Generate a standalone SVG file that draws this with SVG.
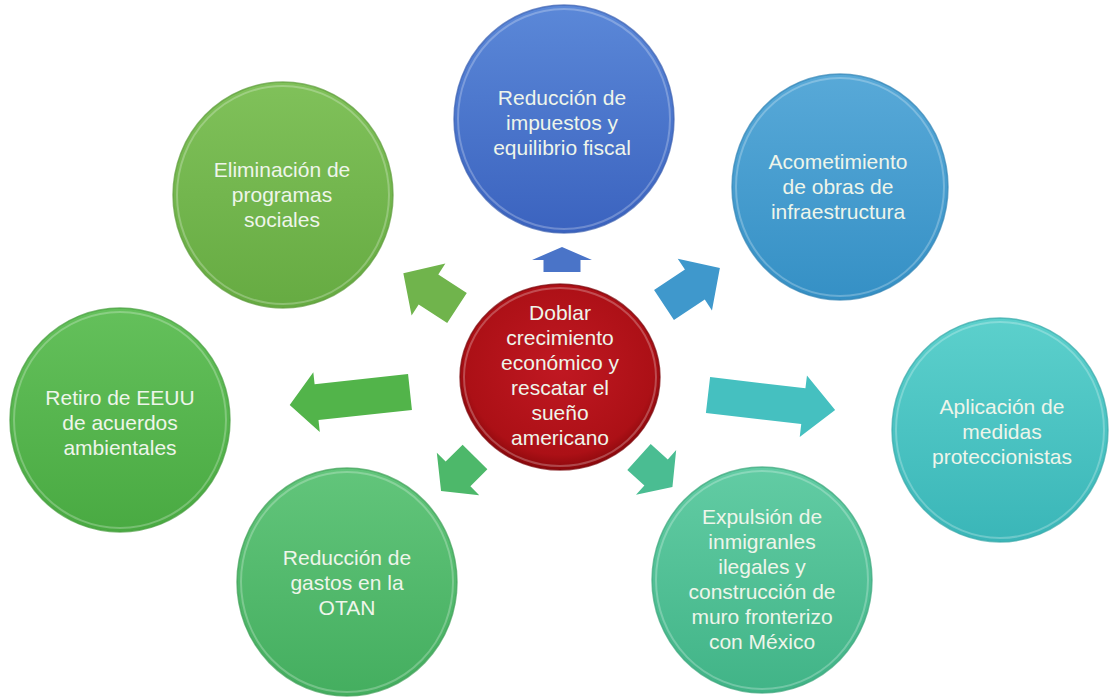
<svg xmlns="http://www.w3.org/2000/svg" width="1109" height="698" viewBox="0 0 1109 698">
<defs>
  <linearGradient id="gBlue" x1="0" y1="0" x2="0" y2="1"><stop offset="0" stop-color="#5b88d8"/><stop offset="1" stop-color="#3b63bf"/></linearGradient>
  <linearGradient id="gSky" x1="0" y1="0" x2="0" y2="1"><stop offset="0" stop-color="#58a9d8"/><stop offset="1" stop-color="#3590c5"/></linearGradient>
  <linearGradient id="gTeal" x1="0" y1="0" x2="0" y2="1"><stop offset="0" stop-color="#5cd0cc"/><stop offset="1" stop-color="#3ab6b8"/></linearGradient>
  <linearGradient id="gMint" x1="0" y1="0" x2="0" y2="1"><stop offset="0" stop-color="#62cca4"/><stop offset="1" stop-color="#41b487"/></linearGradient>
  <linearGradient id="gGreen" x1="0" y1="0" x2="0" y2="1"><stop offset="0" stop-color="#62c57b"/><stop offset="1" stop-color="#44ae5f"/></linearGradient>
  <linearGradient id="gLeaf" x1="0" y1="0" x2="0" y2="1"><stop offset="0" stop-color="#64c05b"/><stop offset="1" stop-color="#49aa42"/></linearGradient>
  <linearGradient id="gLime" x1="0" y1="0" x2="0" y2="1"><stop offset="0" stop-color="#80c15a"/><stop offset="1" stop-color="#66ab42"/></linearGradient>
  <radialGradient id="gRed" cx="0.5" cy="0.45" r="0.55"><stop offset="0" stop-color="#c01822"/><stop offset="0.85" stop-color="#ac1016"/><stop offset="1" stop-color="#8a080c"/></radialGradient>
</defs>
<style>
  .rim { fill: none; stroke: #ffffff; stroke-opacity: 0.25; stroke-width: 2; }
  .edge { stroke-width: 1.5; stroke-opacity: 0.7; }
  .lbl { font-family: "Liberation Sans", Arial, sans-serif; font-size: 21px; fill: #eef5ea; text-anchor: middle; }
</style>
<rect width="1109" height="698" fill="#ffffff"/>

<g id="connectors">
  <polygon transform="translate(562,272) rotate(-90)" fill="#4a74c8" points="0,-18.5 12,-18.5 12,-30 25,0 12,30 12,18.5 0,18.5"/>
  <polygon transform="translate(664,305) rotate(-33.5)" fill="#3f98cc" points="0,-18 37,-18 37,-31 67,0 37,31 37,18 0,18"/>
  <polygon transform="translate(708,395) rotate(6.7)" fill="#45c0c0" points="0,-18 96,-18 96,-31 128,0 96,31 96,18 0,18"/>
  <polygon transform="translate(639,457) rotate(42)" fill="#4abd92" points="0,-17.5 23,-17.5 23,-30 45,0 23,30 23,17.5 0,17.5"/>
  <polygon transform="translate(475,457) rotate(135)" fill="#4db86a" points="0,-17.5 24,-17.5 24,-30 48,0 24,30 24,17.5 0,17.5"/>
  <polygon transform="translate(410,392) rotate(173.8)" fill="#52b44a" points="0,-18 94,-18 94,-30 121,0 94,30 94,18 0,18"/>
  <polygon transform="translate(457,308) rotate(-147)" fill="#70b44c" points="0,-18 34,-18 34,-31 64,0 34,31 34,18 0,18"/>
</g>

<g id="node-impuestos">
  <ellipse cx="564" cy="119" rx="110" ry="114" fill="url(#gBlue)" class="edge" stroke="#3a5fb0"/>
  <ellipse cx="564" cy="119" rx="106" ry="110" class="rim"/>
  <text class="lbl" x="562" y="105">Reducción de</text>
  <text class="lbl" x="562" y="130">impuestos y</text>
  <text class="lbl" x="562" y="155">equilibrio fiscal</text>
</g>

<g id="node-infraestructura">
  <ellipse cx="840" cy="187" rx="108" ry="113" fill="url(#gSky)" class="edge" stroke="#3385b5"/>
  <ellipse cx="840" cy="187" rx="104" ry="109" class="rim"/>
  <text class="lbl" x="838" y="169">Acometimiento</text>
  <text class="lbl" x="838" y="194">de obras de</text>
  <text class="lbl" x="838" y="219">infraestructura</text>
</g>

<g id="node-proteccionistas">
  <ellipse cx="1000" cy="430" rx="108" ry="112" fill="url(#gTeal)" class="edge" stroke="#36a8a8"/>
  <ellipse cx="1000" cy="430" rx="104" ry="108" class="rim"/>
  <text class="lbl" x="1002" y="414">Aplicación de</text>
  <text class="lbl" x="1002" y="439">medidas</text>
  <text class="lbl" x="1002" y="464">proteccionistas</text>
</g>

<g id="node-inmigrantes">
  <ellipse cx="762" cy="580" rx="110" ry="113" fill="url(#gMint)" class="edge" stroke="#3ca67c"/>
  <ellipse cx="762" cy="580" rx="106" ry="109" class="rim"/>
  <text class="lbl" x="762" y="524">Expulsión de</text>
  <text class="lbl" x="762" y="549">inmigranles</text>
  <text class="lbl" x="762" y="574">ilegales y</text>
  <text class="lbl" x="762" y="599">construcción de</text>
  <text class="lbl" x="762" y="624">muro fronterizo</text>
  <text class="lbl" x="762" y="649">con México</text>
</g>

<g id="node-otan">
  <ellipse cx="347" cy="582" rx="110" ry="114" fill="url(#gGreen)" class="edge" stroke="#3f9f57"/>
  <ellipse cx="347" cy="582" rx="106" ry="110" class="rim"/>
  <text class="lbl" x="347" y="565">Reducción de</text>
  <text class="lbl" x="347" y="590">gastos en la</text>
  <text class="lbl" x="347" y="615">OTAN</text>
</g>

<g id="node-ambientales">
  <ellipse cx="120" cy="420" rx="110" ry="112" fill="url(#gLeaf)" class="edge" stroke="#449d3c"/>
  <ellipse cx="120" cy="420" rx="106" ry="108" class="rim"/>
  <text class="lbl" x="120" y="405">Retiro de EEUU</text>
  <text class="lbl" x="120" y="430">de acuerdos</text>
  <text class="lbl" x="120" y="455">ambientales</text>
</g>

<g id="node-sociales">
  <ellipse cx="283" cy="195" rx="110" ry="113" fill="url(#gLime)" class="edge" stroke="#5e9c3c"/>
  <ellipse cx="283" cy="195" rx="106" ry="109" class="rim"/>
  <text class="lbl" x="282" y="177">Eliminación de</text>
  <text class="lbl" x="282" y="202">programas</text>
  <text class="lbl" x="282" y="227">sociales</text>
</g>

<g id="node-centro">
  <ellipse cx="560" cy="377" rx="100" ry="93" fill="url(#gRed)" class="edge" stroke="#7a060a"/>
  <ellipse cx="560" cy="377" rx="96" ry="89" class="rim" stroke-opacity="0.15"/>
  <text class="lbl" x="560" y="320">Doblar</text>
  <text class="lbl" x="560" y="345">crecimiento</text>
  <text class="lbl" x="560" y="370">económico y</text>
  <text class="lbl" x="560" y="395">rescatar el</text>
  <text class="lbl" x="560" y="420">sueño</text>
  <text class="lbl" x="560" y="445">americano</text>
</g>
</svg>
